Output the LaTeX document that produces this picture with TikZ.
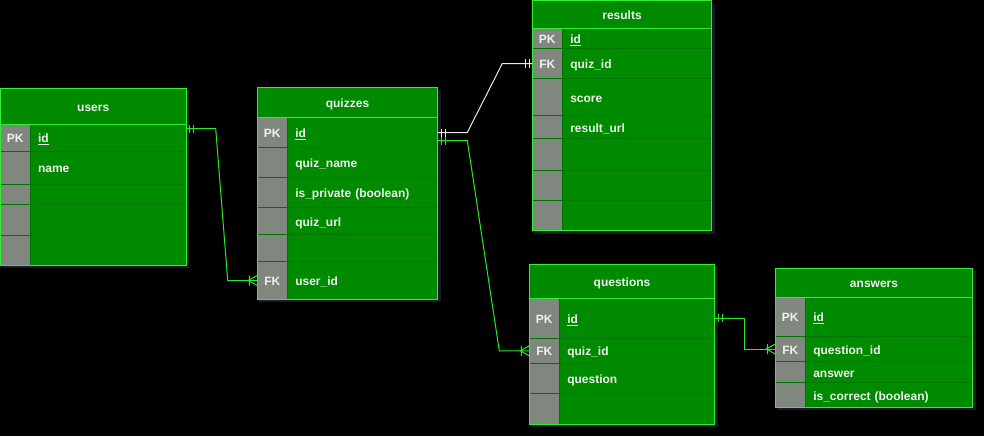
\documentclass[tikz,border=0pt]{standalone}
\usepackage{fontspec}
\setmainfont{Liberation Sans}
\usetikzlibrary{calc}
\definecolor{tfill}{HTML}{008A00}
\definecolor{tline}{HTML}{33EE33}
\definecolor{rline}{HTML}{007400}
\definecolor{kfill}{HTML}{7F877F}
\definecolor{ttext}{HTML}{F0F0F0}
\definecolor{lgreen}{HTML}{22EE22}
\definecolor{lwhite}{HTML}{E8E8E8}
\definecolor{shad}{HTML}{1A1A26}

\tikzset{
 cell/.style={draw=rline, line width=0.8pt, inner sep=0pt, outer sep=0pt, text=ttext, text height=11pt, text depth=0.9pt, font=\bfseries\fontsize{12}{14}\selectfont},
 keycell/.style={cell, fill=kfill, align=center},
 datacell/.style={cell, fill=tfill, align=left, inner xsep=8pt},
 headcell/.style={cell, fill=tfill, draw=tline},
 frame/.style={draw=tline, line width=1pt},
 glink/.style={draw=lgreen, line width=1pt},
 wlink/.style={draw=lwhite, line width=1pt},
 erone/.pic={\draw (3.3,-4) -- (3.3,4) (7.3,-4) -- (7.3,4);},
 ermany/.pic={\draw (8,-5) -- (8,5) (0,-5) -- (9,0) -- (0,5);},
}

% #1 name, #2 x1, #3 xk, #4 x2, #5 ya, #6 yb, #7 key, #8 text
\newcommand{\errow}[8]{%
 \pgfmathsetmacro\kw{#3-#2}\pgfmathsetmacro\dw{#4-#3-16}\pgfmathsetmacro\rh{#6-#5}%
 \node[keycell, minimum width=\kw pt, minimum height=\rh pt, anchor=north west] (#1k) at (#2,#5) {#7};
 \node[datacell, text width=\dw pt, minimum height=\rh pt, anchor=north west] (#1) at (#3,#5) {#8};
}
% #1 name, #2 x1, #3 x2, #4 ytop, #5 yhead, #6 ybottom, #7 title
\newcommand{\erhead}[7]{%
 \pgfmathsetmacro\hw{#3-#2}\pgfmathsetmacro\hh{#5-#4}%
 \node[headcell, minimum width=\hw pt, minimum height=\hh pt, anchor=north west] (#1) at (#2,#4) {#7};
 \draw[frame] (#2,#4) rectangle (#3,#6);
}
\newcommand{\ershadow}[4]{\fill[shad] (#1+2,#3+3) rectangle (#2+3,#4+3);}

\begin{document}
\begin{tikzpicture}[x=1pt,y=-1pt]
\useasboundingbox (0,0) rectangle (984,436);
\fill[black] (0,0) rectangle (984,436);

% shadows
\ershadow{0.5}{186}{88}{265}
\ershadow{257.3}{437.7}{87.3}{299.3}
\ershadow{532.3}{711.7}{0.7}{230.7}
\ershadow{529.3}{714.7}{264.3}{424}
\ershadow{775.3}{972.7}{268.3}{407.3}

% users
\errow{u1}{0.5}{30}{186}{124}{151}{PK}{\underline{id}}
\errow{u2}{0.5}{30}{186}{151}{184}{}{name}
\errow{u3}{0.5}{30}{186}{184}{204.5}{}{}
\errow{u4}{0.5}{30}{186}{204.5}{235}{}{}
\errow{u5}{0.5}{30}{186}{235}{265}{}{}
\erhead{users}{0.5}{186}{88}{124}{265}{users}

% quizzes
\errow{qz1}{257.3}{287.3}{437.7}{117.3}{147.7}{PK}{\underline{id}}
\errow{qz2}{257.3}{287.3}{437.7}{147.7}{177.7}{}{quiz\_name}
\errow{qz3}{257.3}{287.3}{437.7}{177.7}{207.3}{}{is\_private (boolean)}
\errow{qz4}{257.3}{287.3}{437.7}{207.3}{234.7}{}{quiz\_url}
\errow{qz5}{257.3}{287.3}{437.7}{234.7}{261.7}{}{}
\errow{qz6}{257.3}{287.3}{437.7}{261.7}{299.3}{FK}{user\_id}
\erhead{quizzes}{257.3}{437.7}{87.3}{117.3}{299.3}{quizzes}

% results
\errow{r1}{532.3}{562.3}{711.7}{28.3}{48.7}{PK}{\underline{id}}
\errow{r2}{532.3}{562.3}{711.7}{48.7}{78.3}{FK}{quiz\_id}
\errow{r3}{532.3}{562.3}{711.7}{78.3}{115.7}{}{score}
\errow{r4}{532.3}{562.3}{711.7}{115.7}{138.7}{}{result\_url}
\errow{r5}{532.3}{562.3}{711.7}{138.7}{170.3}{}{}
\errow{r6}{532.3}{562.3}{711.7}{170.3}{200.3}{}{}
\errow{r7}{532.3}{562.3}{711.7}{200.3}{230.7}{}{}
\erhead{results}{532.3}{711.7}{0.7}{28.3}{230.7}{results}

% questions
\errow{qs1}{529.3}{559.3}{714.7}{298.3}{338.3}{PK}{\underline{id}}
\errow{qs2}{529.3}{559.3}{714.7}{338.3}{363.3}{FK}{quiz\_id}
\errow{qs3}{529.3}{559.3}{714.7}{363.3}{393.3}{}{question}
\errow{qs4}{529.3}{559.3}{714.7}{393.3}{424}{}{}
\erhead{questions}{529.3}{714.7}{264.3}{298.3}{424}{questions}

% answers
\errow{a1}{775.3}{805.3}{972.7}{297}{336.7}{PK}{\underline{id}}
\errow{a2}{775.3}{805.3}{972.7}{336.7}{361.3}{FK}{question\_id}
\errow{a3}{775.3}{805.3}{972.7}{361.3}{382.7}{}{answer}
\errow{a4}{775.3}{805.3}{972.7}{382.7}{407.3}{}{is\_correct (boolean)}
\erhead{answers}{775.3}{972.7}{268.3}{297}{407.3}{answers}

% connectors
\draw[glink] ([yshift=9pt]u1.east) -- (215.7,128.5) -- (227.7,280.5) -- (qz6k.west);
\path ([yshift=9pt]u1.east) pic[color=lgreen, line width=1pt] {erone};
\path (qz6k.west) pic[color=lgreen, line width=1pt, xscale=-1] {ermany};

\draw[wlink] (qz1.east) -- (467.3,132.5) -- (502.3,63.5) -- (r2k.west);
\path (qz1.east) pic[color=lwhite, line width=1pt] {erone};
\path (r2k.west) pic[color=lwhite, line width=1pt, xscale=-1] {erone};

\draw[glink] ([yshift=-8pt]qz1.east) -- (467.3,140.5) -- (499.3,350.8) -- (qs2k.west);
\path ([yshift=-8pt]qz1.east) pic[color=lgreen, line width=1pt] {erone};
\path (qs2k.west) pic[color=lgreen, line width=1pt, xscale=-1] {ermany};

\draw[glink] (qs1.east) -- (744.3,318.3) -- (744.3,349) -- (a2k.west);
\path (qs1.east) pic[color=lgreen, line width=1pt] {erone};
\path (a2k.west) pic[color=lgreen, line width=1pt, xscale=-1] {ermany};
\end{tikzpicture}
\end{document}
